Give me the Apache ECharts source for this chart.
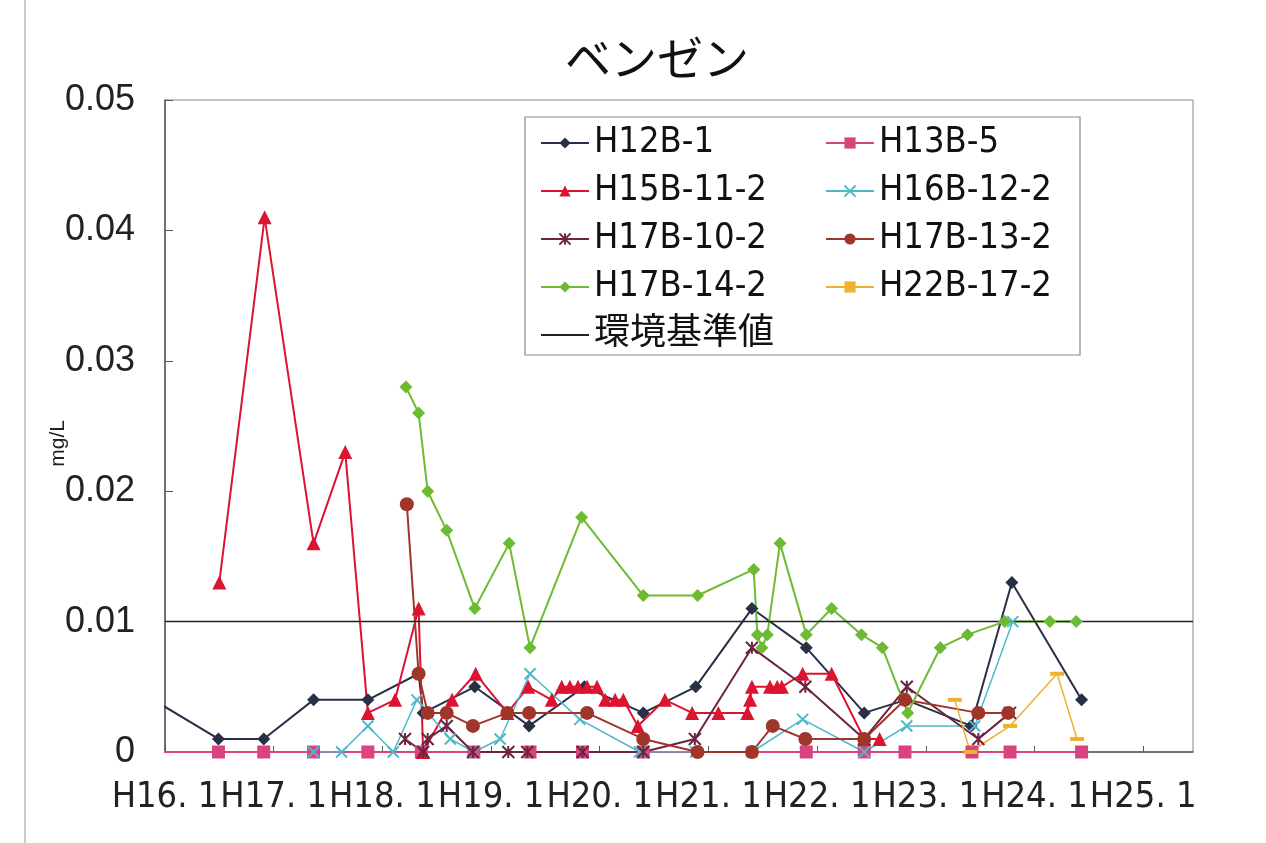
<!DOCTYPE html>
<html>
<head>
<meta charset="utf-8">
<script src="https://cdn.jsdelivr.net/npm/echarts@6/dist/echarts.min.js"></script>
<style>
  html, body { margin: 0; padding: 0; background: #fff; }
  #chart { width: 1266px; height: 843px; }
</style>
</head>
<body>
<div id="chart"></div>
<script>
// x = months since H16.1, y = mg/L
const h12b1 = [[-2.0, 0.0043], [5.9, 0.001], [10.9, 0.001], [16.4, 0.004], [22.4, 0.004], [28.0, 0.006], [28.5, 0.003],
  [34.2, 0.005], [40.2, 0.002], [46.3, 0.005], [52.8, 0.003], [58.6, 0.005], [64.8, 0.011], [70.8, 0.008],
  [77.2, 0.003], [81.8, 0.004], [89.0, 0.002], [93.5, 0.013], [101.2, 0.004]];
const h13b5 = [[-3.0, 0], [5.9, 0], [10.9, 0], [16.4, 0], [22.4, 0], [28.3, 0], [34.1, 0], [40.3, 0], [46.1, 0], [52.8, 0],
  [70.8, 0], [77.2, 0], [81.7, 0], [89.1, 0], [93.3, 0], [101.2, 0]];
const h15b112 = [[6.0, 0.013], [11.0, 0.041], [16.4, 0.016], [19.9, 0.023], [22.4, 0.003], [25.4, 0.004], [28.0, 0.011],
  [28.5, 0], [31.7, 0.004], [34.3, 0.006], [37.8, 0.003], [40.1, 0.005], [42.7, 0.004], [43.8, 0.005], [44.7, 0.005],
  [45.6, 0.005], [46.6, 0.005], [47.7, 0.005], [48.6, 0.004], [49.7, 0.004], [50.6, 0.004], [52.2, 0.002],
  [55.2, 0.004], [58.2, 0.003], [61.1, 0.003], [64.3, 0.003], [64.6, 0.004], [64.8, 0.005], [66.8, 0.005],
  [67.6, 0.005], [68.1, 0.005], [70.4, 0.006], [73.6, 0.006], [77.2, 0.001], [78.9, 0.001]];
const h16b122 = [[16.4, 0], [19.5, 0], [22.4, 0.002], [25.2, 0], [27.8, 0.004], [31.5, 0.001], [34.1, 0], [37.0, 0.001],
  [40.3, 0.006], [45.8, 0.0025], [52.4, 0], [58.6, 0], [64.8, 0], [70.4, 0.0025], [77.2, 0], [81.9, 0.002],
  [89.4, 0.002], [93.6, 0.010]];
const h17b102 = [[26.5, 0.001], [28.5, 0], [29.0, 0.001], [31.1, 0.002], [34.0, 0], [37.9, 0], [40.0, 0], [46.1, 0],
  [52.8, 0], [58.5, 0.001], [64.8, 0.008], [70.7, 0.005], [77.2, 0.001], [81.9, 0.005], [89.8, 0.001], [93.3, 0.003]];
const h17b132 = [[26.7, 0.019], [28.0, 0.006], [29.0, 0.003], [31.1, 0.003], [34.0, 0.002], [37.8, 0.003], [40.2, 0.003],
  [46.6, 0.003], [52.8, 0.001], [58.8, 0], [64.8, 0], [67.1, 0.002], [70.7, 0.001], [77.2, 0.001], [81.7, 0.004],
  [89.8, 0.003], [93.1, 0.003]];
const h17b142 = [[26.6, 0.028], [28.0, 0.026], [29.0, 0.020], [31.1, 0.017], [34.2, 0.011], [38.0, 0.016], [40.3, 0.008],
  [46.0, 0.018], [52.8, 0.012], [58.8, 0.012], [65.0, 0.014], [65.4, 0.009], [65.9, 0.008], [66.5, 0.009],
  [67.9, 0.016], [70.8, 0.009], [73.6, 0.011], [76.9, 0.009], [79.2, 0.008], [82.0, 0.003], [85.6, 0.008],
  [88.6, 0.009], [92.7, 0.010], [97.7, 0.010], [100.6, 0.010]];
const h22b172 = [[87.2, 0.004], [88.9, 0], [93.3, 0.002], [98.5, 0.006], [100.7, 0.001]];
const standard = [[0, 0.01], [113.5, 0.01]];

const yTicks = [0, 0.01, 0.02, 0.03, 0.04, 0.05];
const legendCol1 = ['H12B-1', 'H15B-11-2', 'H17B-10-2', 'H17B-14-2', { name: '環境基準値', itemStyle: { opacity: 0 } }];
const legendCol2 = ['H13B-5', 'H16B-12-2', 'H17B-13-2', 'H22B-17-2'];

const narrow = "'Liberation Sans Narrow', 'DejaVu Sans Condensed', 'Noto Sans CJK JP', sans-serif";
const xShape = 'path://M0,0L10,10M10,0L0,10';
const starShape = 'path://M0,0L10,10M10,0L0,10M5,0L5,10';

function lineSeries(name, data, color, symbol, size, extra) {
  return Object.assign({
    name: name,
    type: 'line',
    data: data,
    symbol: symbol,
    symbolSize: size,
    lineStyle: { color: color, width: 2 },
    itemStyle: { color: color },
    animation: false
  }, extra || {});
}

const chart = echarts.init(document.getElementById('chart'));

const legendBase = {
  orient: 'vertical',
  top: 125,
  padding: 0,
  itemGap: 12,
  itemWidth: 48,
  itemHeight: 14,
  textStyle: { fontFamily: narrow, fontSize: 36, lineHeight: 34, color: '#111' }
};

chart.setOption({
  backgroundColor: '#fff',
  title: {
    text: 'ベンゼン',
    left: 560,
    top: 30,
    textStyle: { fontFamily: 'Noto Sans CJK JP', fontSize: 46, fontWeight: 'normal', color: '#111' }
  },
  legend: [
    Object.assign({ left: 540, data: legendCol1 }, legendBase),
    Object.assign({ left: 825, data: legendCol2 }, legendBase)
  ],
  grid: { left: 165, right: 73, top: 100, bottom: 91, show: true, borderColor: '#888', borderWidth: 1 },
  xAxis: {
    type: 'value',
    min: 0,
    max: 113.5,
    interval: 12,
    axisLine: { lineStyle: { color: '#555', width: 1.5 } },
    axisTick: { inside: true, length: 6, lineStyle: { color: '#555' } },
    splitLine: { show: false },
    axisLabel: {
      margin: 28,
      showMaxLabel: false,
      fontFamily: narrow,
      fontSize: 36,
      color: '#222',
      formatter: function (v) { return v % 12 === 0 ? 'H' + (16 + v / 12) + '. 1' : ''; }
    }
  },
  yAxis: {
    type: 'value',
    min: yTicks[0],
    max: yTicks[yTicks.length - 1],
    interval: 0.01,
    axisLine: { show: true, lineStyle: { color: '#555', width: 1.5 } },
    axisTick: { show: true, inside: true, length: 8, lineStyle: { color: '#555' } },
    splitLine: { show: false },
    axisLabel: {
      margin: 30,
      fontFamily: "'Liberation Sans', Arial, sans-serif",
      fontSize: 36,
      color: '#222'
    }
  },
  graphic: [
    { type: 'line', shape: { x1: 25, y1: 0, x2: 25, y2: 843 }, style: { stroke: '#bbb', lineWidth: 1.5 } },
    { type: 'rect', z: 1, shape: { x: 525, y: 117, width: 555, height: 238 }, style: { fill: '#fff', stroke: '#888', lineWidth: 1.2 } },
    {
      type: 'text', left: 48, top: 420, rotation: Math.PI / 2,
      style: { text: 'mg/L', font: "21px 'Liberation Sans', Arial, sans-serif", fill: '#222' }
    }
  ],
  series: [
    lineSeries('H12B-1', h12b1, '#283046', 'diamond', 13),
    lineSeries('H13B-5', h13b5, '#D9437E', 'rect', 13),
    lineSeries('H15B-11-2', h15b112, '#DC1430', 'triangle', 14),
    lineSeries('H16B-12-2', h16b122, '#4FB8C8', xShape, 11, {
      lineStyle: { color: '#4FB8C8', width: 1.5 },
      itemStyle: { color: '#4FB8C8', borderColor: '#4FB8C8', borderWidth: 2 }
    }),
    lineSeries('H17B-10-2', h17b102, '#6B2541', starShape, 12, {
      itemStyle: { color: '#6B2541', borderColor: '#6B2541', borderWidth: 2 }
    }),
    lineSeries('H17B-13-2', h17b132, '#A0352A', 'circle', 14),
    lineSeries('H17B-14-2', h17b142, '#6DBB32', 'diamond', 13),
    lineSeries('H22B-17-2', h22b172, '#F0B030', 'rect', [14, 4], {
      lineStyle: { color: '#F0B030', width: 1.5 }
    }),
    lineSeries('環境基準値', standard, '#222', 'none', 0, {
      lineStyle: { color: '#222', width: 1.5 }
    })
  ]
});
</script>
</body>
</html>
